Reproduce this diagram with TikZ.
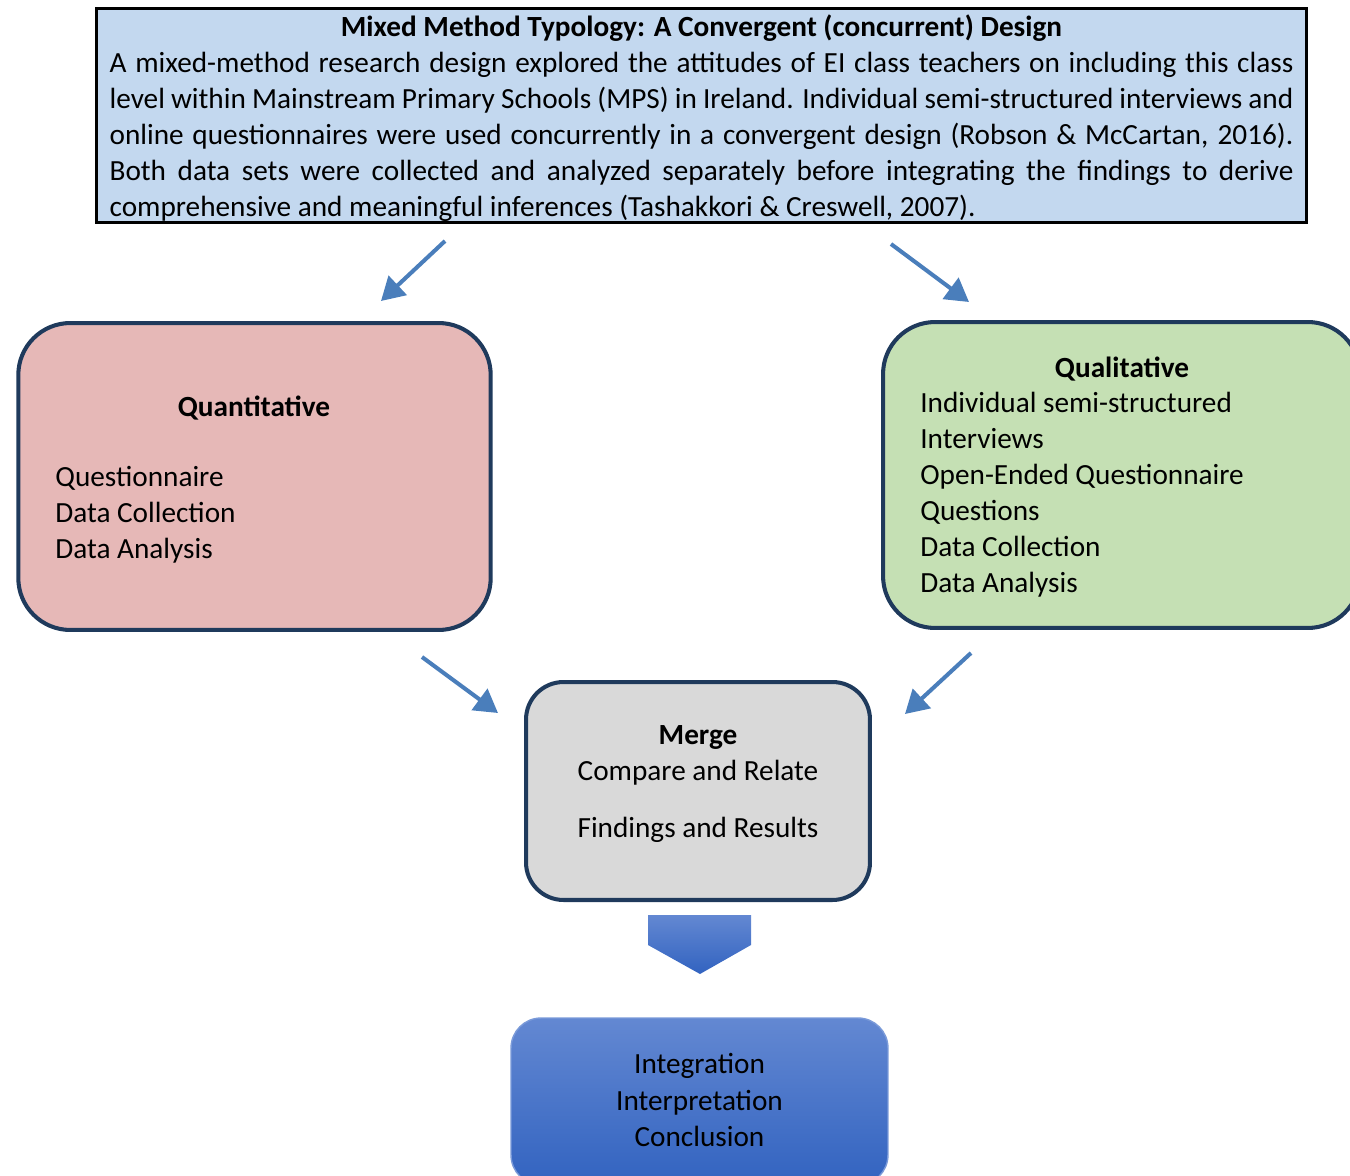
\documentclass[tikz,border=0pt]{standalone}
\usepackage{fontspec}
\setmainfont{Carlito}
\usepackage{tikz}
\usetikzlibrary{positioning, arrows.meta, calc}
\definecolor{Frame}{HTML}{1F3A5C}
\definecolor{Sky}{HTML}{C3D8EF}
\definecolor{Rose}{HTML}{E6B8B7}
\definecolor{Sage}{HTML}{C5E0B4}
\definecolor{Ash}{HTML}{D9D9D9}
\definecolor{Flow}{HTML}{4A7EBB}
\definecolor{DeepTop}{HTML}{6388D2}
\definecolor{DeepBot}{HTML}{3263C0}

\begin{document}
\begin{tikzpicture}[
    x=0.02cm, y=-0.02cm,
    font=\fontsize{16.65}{20.5}\selectfont,
    phase/.style={
      draw=Frame, line width=2.3pt, rounded corners=1.04cm,
      minimum width=9.45cm, minimum height=6.14cm
    },
    flow/.style={
      draw=Flow, line width=2.3pt, -{Triangle[length=0.46cm, width=0.52cm]}
    },
    list/.style={align=left, inner sep=0pt, anchor=west},
    head/.style={font=\fontsize{16.65}{20.5}\selectfont\bfseries, inner sep=0pt}
  ]
  \useasboundingbox (0,0) rectangle (1350,1176);
  \clip (0,0) rectangle (1350,1176);

  \node[draw=black, line width=1.7pt, fill=Sky, minimum width=24.2cm, minimum height=4.28cm] (design) at (701.5,115.5) {};
  \node[text width=23.68cm, inner sep=0pt, align=justify] (designtext) at (701.5,118)
    {\hfill\textbf{Mixed Method Typology: A Convergent (concurrent) Design}\hfill\null\\
     A mixed-method research design explored the attitudes of EI class teachers on including this class\linebreak
     level within Mainstream Primary Schools (MPS) in Ireland. Individual semi-structured interviews and\linebreak
     online questionnaires were used concurrently in a convergent design (Robson \& McCartan, 2016).\linebreak
     Both data sets were collected and analyzed separately before integrating the findings to derive\linebreak
     comprehensive and meaningful inferences (Tashakkori \& Creswell, 2007).};

  \node[phase, fill=Rose] (quant) at (254.5,476.5) {};
  \node[head]  (quanthead) at (254,408) {Quantitative};
  \node[list]  (quantlist) at (55,515) {Questionnaire\\Data Collection\\Data Analysis};

  \node[phase, fill=Sage, minimum width=9.54cm, minimum height=6.12cm] (qual) at (1121.5,475) {};
  \node[head]  (qualhead) at (1122,369) {Qualitative};
  \node[list]  (quallist) at (920,494.5) {Individual semi-structured\\Interviews\\Open-Ended Questionnaire\\Questions\\Data Collection\\Data Analysis};

  \node[phase, fill=Ash, minimum width=6.88cm, minimum height=4.36cm, rounded corners=0.75cm] (merge) at (698,791) {};
  \node[align=center, inner sep=0pt] (mergetext) at (698,784.5)
    {\textbf{Merge}\\Compare and Relate\\[0.42cm]Findings and Results};

  \shade[top color=DeepTop, bottom color=DeepBot]
    (648,915) -- (751,915) -- (751,945) -- (700,974) -- (648,945) -- cycle;

  \node[draw=DeepTop!85!white, line width=0.8pt, rounded corners=0.6cm, top color=DeepTop, bottom color=DeepBot,
        minimum width=7.54cm, minimum height=3.34cm] (final) at (699.5,1101.5) {};
  \node[align=center, inner sep=0pt] (finaltext) at (699.5,1100)
    {Integration\\Interpretation\\Conclusion};

  \coordinate (toq1) at (445,241);  \coordinate (toq2) at (381,301);
  \coordinate (tol1) at (891,244);  \coordinate (tol2) at (969,302);
  \coordinate (fromq1) at (422,657); \coordinate (fromq2) at (498,713);
  \coordinate (froml1) at (971,653); \coordinate (froml2) at (905,714);
  \draw[flow] (toq1) -- (toq2);
  \draw[flow] (tol1) -- (tol2);
  \draw[flow] (fromq1) -- (fromq2);
  \draw[flow] (froml1) -- (froml2);
\end{tikzpicture}
\end{document}
